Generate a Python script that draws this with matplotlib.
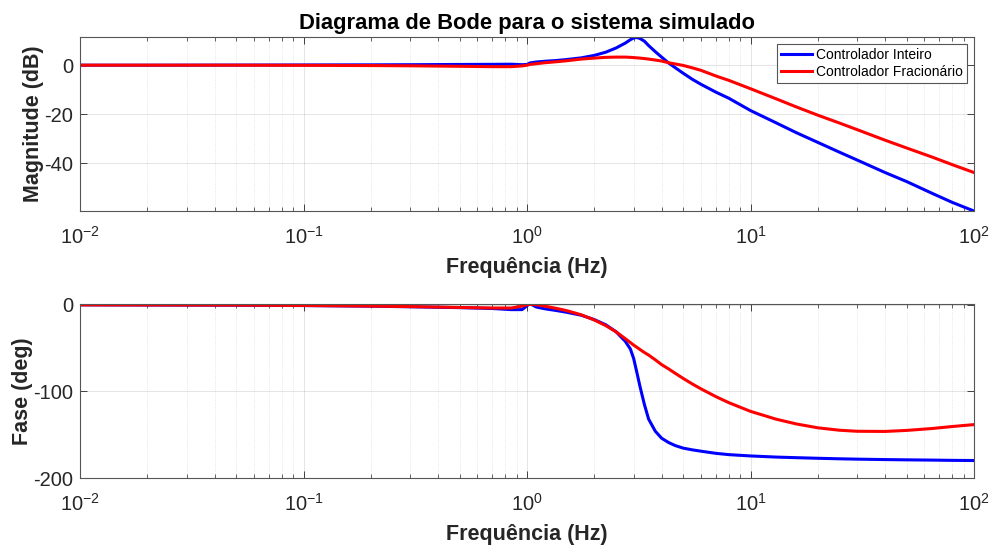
import matplotlib
matplotlib.use("Agg")
import matplotlib.pyplot as plt
from matplotlib.ticker import LogLocator, FixedLocator, NullFormatter

plt.rcParams['font.family'] = ['Liberation Sans', 'DejaVu Sans']
plt.rcParams['mathtext.fontset'] = 'custom'
plt.rcParams['mathtext.rm'] = 'Liberation Sans'
plt.rcParams['axes.unicode_minus'] = False

# frequency points (Hz) and the two responses
freq = [0.01, 0.02, 0.05, 0.1, 0.2, 0.3, 0.5, 0.7, 0.85, 0.95, 1.0, 1.03, 1.1, 1.2,
        1.35, 1.5, 1.75, 2.0, 2.25, 2.5, 2.75, 2.9, 3.0, 3.1, 3.2, 3.35, 3.5, 3.75,
        4.0, 4.3, 4.6, 5.0, 5.5, 6.0, 7.0, 8.0, 10, 13, 16, 20, 25, 30, 40, 50,
        65, 80, 100]

mag_inteiro = [0, 0, 0.05, 0.1, 0.15, 0.2, 0.3, 0.35, 0.4, 0.2, 0.3, 0.9, 1.3, 1.6,
               1.9, 2.3, 3.0, 4.0, 5.3, 7.0, 9.0, 10.4, 11.1, 11.3, 10.9, 9.8, 8.0, 5.5,
               3.3, 0.9, -1.0, -3.3, -5.8, -7.8, -11.0, -13.5, -18.5, -23.5, -27.5, -31.5,
               -35.5, -38.7, -43.8, -47.5, -52.3, -56.0, -59.5]

mag_fracionario = [0, 0, 0, -0.05, -0.15, -0.25, -0.45, -0.6, -0.6, -0.3, 0.0, 0.3, 0.6, 1.0,
                   1.4, 1.8, 2.5, 2.9, 3.2, 3.3, 3.3, 3.2, 3.1, 3.0, 2.9, 2.7, 2.5, 2.1,
                   1.7, 1.0, 0.5, -0.1, -1.1, -2.1, -4.4, -6.2, -9.6, -13.7, -17.0, -20.4,
                   -23.6, -26.3, -30.6, -33.8, -37.5, -40.6, -43.8]

fase_inteiro = [0, -0.2, -0.4, -0.8, -1.5, -2.2, -3.2, -4.2, -5.5, -5.5, -1.0, 1.5, -2.5, -4.5,
                -6.5, -8.5, -12, -17, -23, -31, -42, -51, -62, -78, -94, -115, -132, -146,
                -154, -159, -162.5, -165.5, -167.5, -169, -171.5, -173, -174.5, -175.8,
                -176.5, -177.2, -177.8, -178.2, -178.7, -179.0, -179.3, -179.6, -179.8]

fase_fracionario = [0, -0.1, -0.3, -0.7, -1.4, -2.0, -3.0, -3.6, -3.6, -1.5, 0.2, 0.5, 0.2, -1.5,
                    -4, -6.6, -11.5, -17.5, -24, -31, -39, -43.5, -46.5, -49, -51.5, -55, -58,
                    -63.5, -69, -74, -79, -85, -91.5, -97, -106, -113, -123, -132, -137.5,
                    -142, -144.8, -146, -146.2, -145, -142.8, -140.5, -138.3]

labels = ['Controlador Inteiro', 'Controlador Fracionário']
cores = ['#0000ff', '#ff0000']
grid_gray = '#262626'

fig = plt.figure(figsize=(9.93, 5.45), dpi=100)
ax1 = fig.add_axes([0.0806, 0.6128, 0.9003, 0.3193])
ax2 = fig.add_axes([0.0806, 0.1229, 0.9003, 0.3193])

ax1.semilogx(freq, mag_inteiro, color=cores[0], lw=2.2, label=labels[0])
ax1.semilogx(freq, mag_fracionario, color=cores[1], lw=2.2, label=labels[1])
ax2.semilogx(freq, fase_inteiro, color=cores[0], lw=2.2)
ax2.semilogx(freq, fase_fracionario, color=cores[1], lw=2.2)

ax1.set_ylim(-59.5, 11.5)
ax1.yaxis.set_major_locator(FixedLocator([-40, -20, 0]))
ax2.set_ylim(-200, 1)
ax2.yaxis.set_major_locator(FixedLocator([-200, -100, 0]))

for ax in (ax1, ax2):
    ax.set_xlim(0.01, 100)
    ax.xaxis.set_major_locator(LogLocator(base=10, numticks=10))
    ax.xaxis.set_minor_locator(LogLocator(base=10, subs=range(2, 10), numticks=20))
    ax.xaxis.set_minor_formatter(NullFormatter())
    ax.grid(True, which='major', color=grid_gray, alpha=0.12, lw=0.7)
    ax.grid(True, which='minor', axis='x', color=grid_gray, alpha=0.15, lw=0.6, ls=':')
    ax.tick_params(which='both', direction='in', top=True, right=True,
                   colors=grid_gray, labelcolor=grid_gray, labelsize=14.5)
    ax.tick_params(which='major', length=5, width=0.6)
    ax.tick_params(which='minor', length=3, width=0.5)
    ax.tick_params(axis='x', pad=11)
    ax.tick_params(axis='y', pad=5)
    for s in ax.spines.values():
        s.set_color('#555555')
        s.set_linewidth(0.8)
    ax.set_xlabel('Frequência (Hz)', fontsize=15.5, fontweight='bold',
                  color=grid_gray, labelpad=6)

ax1.set_ylabel('Magnitude (dB)', fontsize=15.5, fontweight='bold', color=grid_gray, labelpad=0)
ax2.set_ylabel('Fase (deg)', fontsize=15.5, fontweight='bold', color=grid_gray, labelpad=0)
ax1.set_title('Diagrama de Bode para o sistema simulado', fontsize=15.8,
              fontweight='bold', color='black', pad=6)

leg = ax1.legend(loc='upper right', fontsize=10, fancybox=False, framealpha=1,
                 edgecolor='#555555', borderaxespad=0.5, handlelength=2.2,
                 borderpad=0.3, labelspacing=0.2, handletextpad=0.3)
leg.get_frame().set_linewidth(0.8)

fig.savefig('out.png', dpi=100)
